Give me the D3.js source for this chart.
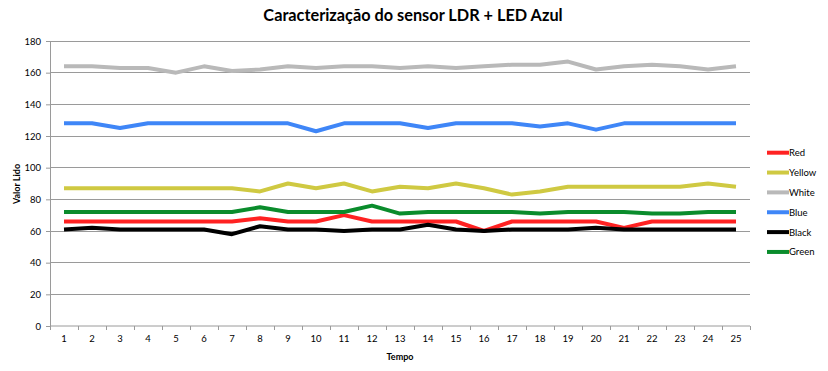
<!DOCTYPE html>
<html><head><meta charset="utf-8">
<script src="https://cdn.jsdelivr.net/npm/d3@7"></script>
<style>body{margin:0;background:#fff}svg{display:block}text{font-family:Lato,"Open Sans",sans-serif}</style>
</head><body><div id="chart"></div>
<script>
const categories = d3.range(1, 26).map(String);
const yTicks = [0,20,40,60,80,100,120,140,160,180];
const seriesNames = ["Red","Yellow","White","Blue","Black","Green"];
const seriesColors = ["#ff2222","#cfc942","#b9b9b9","#3f86f7","#000000","#0a8c2c"];
const red    = [66,66,66,66,66,66,66,68,66,66,70,66,66,66,66,60,66,66,66,66,62,66,66,66,66];
const yellow = [87,87,87,87,87,87,87,85,90,87,90,85,88,87,90,87,83,85,88,88,88,88,88,90,88];
const white  = [164,164,163,163,160,164,161,162,164,163,164,164,163,164,163,164,165,165,167,162,164,165,164,162,164];
const blue   = [128,128,125,128,128,128,128,128,128,123,128,128,128,125,128,128,128,126,128,124,128,128,128,128,128];
const black  = [61,62,61,61,61,61,58,63,61,61,60,61,61,64,61,60,61,61,61,62,61,61,61,61,61];
const green  = [72,72,72,72,72,72,72,75,72,72,72,76,71,72,72,72,72,71,72,72,72,71,71,72,72];
const seriesValues = [red, yellow, white, blue, black, green];

const W = 828, H = 371;
const svg = d3.select("#chart").append("svg").attr("width", W).attr("height", H);
const m = {left: 50, right: 78, top: 41, bottom: 45};
const x = d3.scaleBand().domain(categories).range([m.left, W - m.right]);
const y = d3.scaleLinear().domain([0, 180]).range([H - m.bottom, m.top]);

// gridlines
svg.append("g").selectAll("line").data(yTicks.filter(d => d > 0)).join("line")
  .attr("x1", m.left).attr("x2", W - m.right)
  .attr("y1", d => y(d)).attr("y2", d => y(d))
  .attr("stroke", "#9a9a9a").attr("stroke-width", 1).attr("shape-rendering", "crispEdges");

// y axis
const ya = svg.append("g").attr("transform", `translate(${m.left},0)`)
  .call(d3.axisLeft(y).tickValues(yTicks).tickSize(4).tickPadding(5));
ya.select(".domain").attr("stroke", "#9a9a9a");
ya.selectAll(".tick line").attr("stroke", "#9a9a9a");
ya.selectAll("text").attr("font-size", 9.5).attr("fill", "#000");

// x axis
const xa = svg.append("g").attr("transform", `translate(0,${y(0)})`)
  .call(d3.axisBottom(x).tickSize(0).tickPadding(9));
xa.select(".domain").attr("stroke", "#9a9a9a").attr("d", `M${m.left},0H${W - m.right}`);
xa.selectAll("text").attr("font-size", 9.5).attr("fill", "#000");
svg.append("g").selectAll("line").data(d3.range(categories.length + 1)).join("line")
  .attr("x1", i => m.left + i * x.step()).attr("x2", i => m.left + i * x.step())
  .attr("y1", y(0)).attr("y2", y(0) + 4)
  .attr("stroke", "#9a9a9a").attr("shape-rendering", "crispEdges");

// lines
const line = d3.line().x((d, i) => x(categories[i]) + x.bandwidth() / 2).y(d => y(d));
svg.append("g").selectAll("path").data(seriesValues).join("path")
  .attr("d", d => line(d)).attr("fill", "none")
  .attr("stroke", (d, i) => seriesColors[i]).attr("stroke-width", 4)
  .attr("stroke-linejoin", "round");

// title & axis labels
svg.append("text").attr("x", 413).attr("y", 21).attr("text-anchor", "middle")
  .attr("font-size", 16.3).attr("font-weight", "bold").text("Caracterização do sensor LDR + LED Azul");
svg.append("text").attr("transform", "translate(20,184) rotate(-90)").attr("text-anchor", "middle")
  .attr("font-size", 9).attr("font-weight", "bold").text("Valor Lido");
svg.append("text").attr("x", 400).attr("y", 360).attr("text-anchor", "middle")
  .attr("font-size", 9).attr("font-weight", "bold").text("Tempo");

// legend
const lg = svg.append("g").selectAll("g").data(seriesNames).join("g")
  .attr("transform", (d, i) => `translate(767,${152.7 + i * 19.85})`);
lg.append("line").attr("x1", 0).attr("x2", 22).attr("stroke", (d, i) => seriesColors[i]).attr("stroke-width", 4);
lg.append("text").attr("x", 22).attr("y", 3.5).attr("font-size", 9.5).attr("fill", "#000").text(d => d);
</script></body></html>
